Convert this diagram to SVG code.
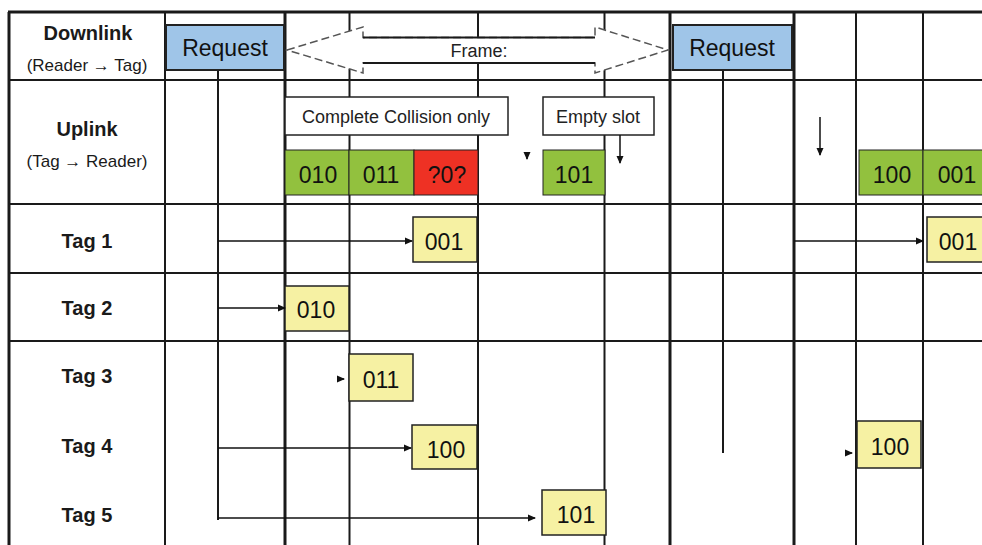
<svg xmlns="http://www.w3.org/2000/svg" width="982" height="545" viewBox="0 0 982 545">
<defs>
<marker id="ah" markerWidth="8" markerHeight="8" refX="7" refY="4" orient="auto" markerUnits="userSpaceOnUse">
<path d="M0,0.5 L8,4 L0,7.5 Z" fill="#111"/>
</marker>
<style>
.g{stroke:#1a1a1a;fill:none}
.t{stroke-width:3}
.n{stroke-width:2}
.lbl{font-family:"Liberation Sans",Arial,sans-serif;fill:#1a1a1a;text-anchor:middle}
.b{font-weight:bold;font-size:20px}
.s{font-size:17px}
.bx{font-family:"Liberation Sans",Arial,sans-serif;font-size:23px;fill:#111;text-anchor:middle}
.cap{font-family:"Liberation Sans",Arial,sans-serif;font-size:18px;fill:#222;text-anchor:middle}
.yel{fill:#F6F1A3;stroke:#222;stroke-width:1.5}
.grn{fill:#92C13E;stroke:#222;stroke-width:1}
.red{fill:#EE3124;stroke:#222;stroke-width:1}
.blu{fill:#9FC5E8;stroke:#222;stroke-width:2}
.wht{fill:#fff;stroke:#222;stroke-width:1.5}
.con{stroke:#111;stroke-width:1.5;fill:none}
</style>
</defs>
<rect width="982" height="545" fill="#fff"/>
<g id="grid" class="g">
<line class="t" x1="9" y1="12" x2="9" y2="545"/>
<line class="n" x1="165" y1="12" x2="165" y2="545"/>
<line class="n" x1="218" y1="70" x2="218" y2="520"/>
<line class="t" x1="285" y1="12" x2="285" y2="545"/>
<line class="n" x1="349.5" y1="12" x2="349.5" y2="545"/>
<line class="n" x1="478" y1="12" x2="478" y2="545"/>
<line class="n" x1="604.5" y1="12" x2="604.5" y2="545"/>
<line class="t" x1="670" y1="12" x2="670" y2="545"/>
<line class="n" x1="723" y1="70" x2="723" y2="453"/>
<line class="t" x1="794" y1="12" x2="794" y2="545"/>
<line class="n" x1="856" y1="12" x2="856" y2="545"/>
<line class="n" x1="923" y1="12" x2="923" y2="545"/>
<line class="t" x1="8" y1="12" x2="982" y2="12"/>
<line class="n" x1="9" y1="80" x2="982" y2="80"/>
<line class="n" x1="9" y1="204" x2="982" y2="204"/>
<line class="n" x1="9" y1="273" x2="982" y2="273"/>
<line class="n" x1="9" y1="341" x2="982" y2="341"/>
</g>
<g id="labels">
<text class="lbl b" x="88" y="40">Downlink</text>
<text class="lbl s" x="87" y="71">(Reader → Tag)</text>
<text class="lbl b" x="87" y="136">Uplink</text>
<text class="lbl s" x="87" y="167">(Tag → Reader)</text>
<text class="lbl b" x="87" y="248">Tag 1</text>
<text class="lbl b" x="87" y="315">Tag 2</text>
<text class="lbl b" x="87" y="383">Tag 3</text>
<text class="lbl b" x="87" y="453">Tag 4</text>
<text class="lbl b" x="87" y="522">Tag 5</text>
</g>
<g id="frame">
<path d="M287,50 L363,27 L363,37.5 L595,37.5 L595,27 L668,50 L595,73 L595,63 L363,63 L363,73 Z" fill="#fff" stroke="#555" stroke-width="1.5" stroke-dasharray="8 4"/>
<line x1="363" y1="37.5" x2="595" y2="37.5" stroke="#1a1a1a" stroke-width="2"/>
<line x1="363" y1="63" x2="595" y2="63" stroke="#1a1a1a" stroke-width="2"/>
<text class="cap" x="479" y="57" font-size="17">Frame:</text>
</g>
<g id="request1">
<rect class="blu" x="166" y="25" width="118" height="45"/>
<text class="bx" x="225" y="56">Request</text>
</g>
<g id="request2">
<rect class="blu" x="673" y="25" width="119" height="45"/>
<text class="bx" x="732" y="56">Request</text>
</g>
<g id="collision-note">
<rect class="wht" x="285" y="97" width="223" height="38"/>
<text class="cap" x="396" y="123">Complete Collision only</text>
</g>
<g id="empty-note">
<rect class="wht" x="543" y="97" width="111" height="38"/>
<text class="cap" x="598" y="123">Empty slot</text>
</g>
<g id="up-010"><rect class="grn" x="285" y="150" width="64" height="45"/><text class="bx" x="318" y="183">010</text></g>
<g id="up-011"><rect class="grn" x="349" y="150" width="65" height="45"/><text class="bx" x="381" y="183">011</text></g>
<g id="up-x0x"><rect class="red" x="414" y="150" width="64" height="45"/><text class="bx" x="447" y="183">?0?</text></g>
<g id="up-101"><rect class="grn" x="543" y="150" width="62" height="45"/><text class="bx" x="574" y="183">101</text></g>
<g id="up-100"><rect class="grn" x="859" y="150" width="64" height="45"/><text class="bx" x="892" y="183">100</text></g>
<g id="up-001"><rect class="grn" x="923" y="150" width="62" height="45"/><text class="bx" x="957" y="183">001</text></g>
<g id="tag1-001"><rect class="yel" x="413" y="217" width="64" height="45"/><text class="bx" x="444" y="250">001</text></g>
<g id="tag2-010"><rect class="yel" x="285" y="286" width="64" height="45"/><text class="bx" x="316" y="318">010</text></g>
<g id="tag3-011"><rect class="yel" x="349" y="354" width="64" height="47"/><text class="bx" x="381" y="388">011</text></g>
<g id="tag4-100"><rect class="yel" x="412" y="425" width="65" height="44"/><text class="bx" x="446" y="458">100</text></g>
<g id="tag5-101"><rect class="yel" x="542" y="490" width="64" height="45"/><text class="bx" x="576" y="523">101</text></g>
<g id="tag1-001b"><rect class="yel" x="927" y="217" width="60" height="45"/><text class="bx" x="958" y="250">001</text></g>
<g id="tag4-100b"><rect class="yel" x="857" y="421" width="64" height="47"/><text class="bx" x="890" y="455">100</text></g>
<g id="connectors">
<line class="con" x1="218" y1="241" x2="412" y2="241" marker-end="url(#ah)"/>
<line class="con" x1="218" y1="308" x2="285" y2="308" marker-end="url(#ah)"/>
<line class="con" x1="337" y1="379" x2="344" y2="379" marker-end="url(#ah)"/>
<line class="con" x1="218" y1="448" x2="411" y2="448" marker-end="url(#ah)"/>
<line class="con" x1="218" y1="518" x2="535" y2="518" marker-end="url(#ah)"/>
<line class="con" x1="794" y1="241" x2="923" y2="241" marker-end="url(#ah)"/>
<line class="con" x1="845" y1="453" x2="852" y2="453" marker-end="url(#ah)"/>
<line class="con" x1="527" y1="152" x2="527" y2="159" marker-end="url(#ah)"/>
<line class="con" x1="620" y1="135" x2="620" y2="163" marker-end="url(#ah)"/>
<line class="con" x1="820" y1="117" x2="820" y2="155" marker-end="url(#ah)"/>
</g>
</svg>
